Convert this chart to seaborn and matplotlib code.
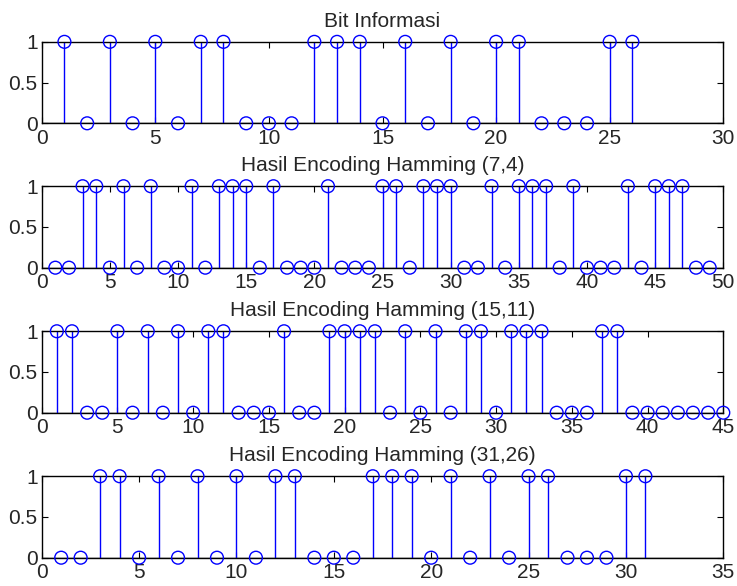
"""
Stem plots of the information bits and their Hamming encoded versions.
"""

import matplotlib

matplotlib.use("Agg")
import matplotlib.pyplot as plt
import numpy as np
import seaborn as sns


bit_info = [1, 0, 1, 0, 1, 0, 1, 1, 0, 0, 0, 1, 1, 1, 0, 1, 0, 1, 0, 1, 1, 0, 0, 0, 1, 1]
hamming_7_4 = [0, 0, 1, 1, 0, 1, 0, 1, 0, 0, 1, 0, 1, 1, 1, 0, 1, 0, 0, 0, 1, 0, 0, 0, 1,
               1, 0, 1, 1, 1, 0, 0, 1, 0, 1, 1, 1, 0, 1, 0, 0, 0, 1, 0, 1, 1, 1, 0, 0]
hamming_15_11 = [1, 1, 0, 0, 1, 0, 1, 0, 1, 0, 1, 1, 0, 0, 0, 1, 0, 0, 1, 1, 1, 1, 0,
                 1, 0, 1, 0, 1, 1, 0, 1, 1, 1, 0, 0, 0, 1, 1, 0, 0, 0, 0, 0, 0, 0]
hamming_31_26 = [0, 0, 1, 1, 0, 1, 0, 1, 0, 1, 0, 1, 1, 0, 0, 0, 1, 1, 1, 0, 1, 0, 1, 0,
                 1, 1, 0, 0, 0, 1, 1]

panel_titles = [
    "Bit Informasi",
    "Hasil Encoding Hamming (7,4)",
    "Hasil Encoding Hamming (15,11)",
    "Hasil Encoding Hamming (31,26)",
]
x_max = [30, 50, 45, 35]


def draw_stem(ax, values, title, xmax):
    """Draw one MATLAB-like stem panel."""
    n = np.arange(1, len(values) + 1)
    vals = np.asarray(values)

    ax.axhline(0, color="black", linewidth=1, zorder=2)
    ax.vlines(n, 0, vals, color="blue", linewidth=1, zorder=2)
    sns.scatterplot(x=n, y=vals, ax=ax, marker="o", s=85, color="blue",
                    edgecolor="blue", linewidth=1, clip_on=False, zorder=3, legend=False)
    ax.collections[-1].set_facecolor("none")

    ax.set_xlim(0, xmax)
    ax.set_ylim(0, 1)
    ax.set_xticks(np.arange(0, xmax + 1, 5))
    ax.set_yticks([0, 0.5, 1])
    ax.set_yticklabels(["0", "0.5", "1"])
    ax.set_title(title, fontsize=15, pad=11)
    ax.tick_params(direction="in", length=4, width=0.8, top=True, right=True,
                   labelsize=15, color="black")
    ax.tick_params(axis="x", pad=4)
    ax.tick_params(axis="y", pad=3)
    for spine in ax.spines.values():
        spine.set_linewidth(1)
        spine.set_color("black")


def main():
    sns.set_theme(style="ticks")
    plt.rcParams["font.family"] = ["Liberation Sans", "DejaVu Sans"]

    fig = plt.figure(figsize=(7.37, 5.86), dpi=100)
    left, width, height = 0.0566, 0.9248, 0.139
    bottoms = [0.7896, 0.5432, 0.2957, 0.0483]
    series = [bit_info, hamming_7_4, hamming_15_11, hamming_31_26]

    for values, title, xmax, bottom in zip(series, panel_titles, x_max, bottoms):
        ax = fig.add_axes([left, bottom, width, height])
        draw_stem(ax, values, title, xmax)

    fig.savefig("out.png", dpi=100)
    plt.close(fig)


if __name__ == "__main__":
    main()
